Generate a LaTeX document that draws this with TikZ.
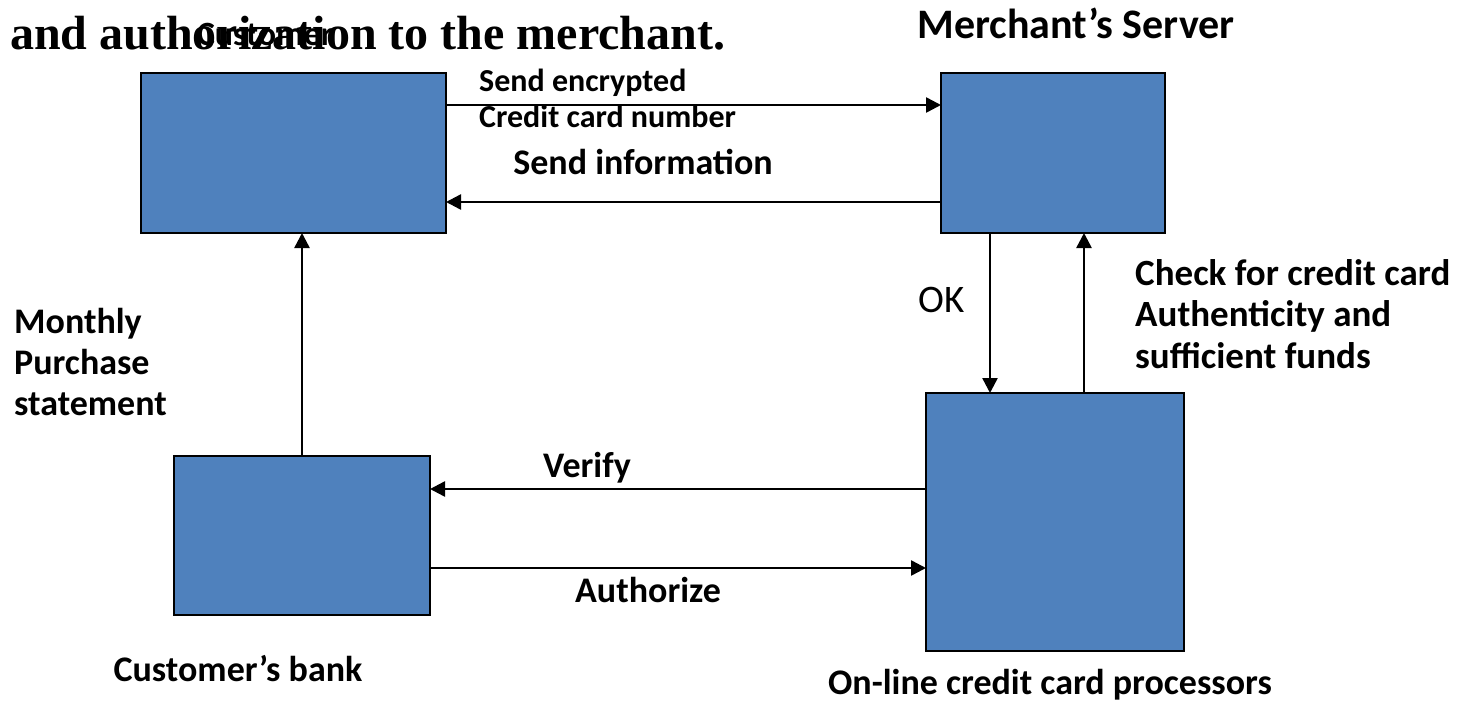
\documentclass[tikz,border=0pt]{standalone}
\usepackage{fontspec}
\setmainfont{Carlito}
\newfontfamily\titlefont{Liberation Serif}
\usetikzlibrary{arrows.meta}
\definecolor{boxblue}{RGB}{79,129,189}

\begin{document}
\begin{tikzpicture}[x=1pt,y=-1pt,
  box/.style={draw=black, line width=2.5pt, fill=boxblue, inner sep=0pt, outer sep=0pt},
  arr/.style={-{Triangle[length=15pt,width=15pt]}, line width=2.5pt},
  lbl/.style={font=\fontsize{36}{41}\selectfont\bfseries, inner sep=0pt, align=left},
  small/.style={font=\fontsize{32}{34}\selectfont\bfseries, inner sep=0pt},
  title/.style={font=\titlefont\bfseries\fontsize{48}{50}\selectfont, inner sep=0pt}
]
\useasboundingbox (0,0) rectangle (1463,701);

% heading line of the slide
\node[title, anchor=base west] (head) at (10,50) {and authorization to the merchant.};

% the four parties
\node[box, minimum width=305pt, minimum height=160pt] (cust)  at (293.5,153) {};
\node[box, minimum width=224pt, minimum height=160pt] (merch) at (1053,153) {};
\node[box, minimum width=258pt, minimum height=258pt] (proc)  at (1055,522) {};
\node[box, minimum width=256pt, minimum height=159pt] (bank)  at (302,535.5) {};

% party names
\node[lbl, font=\fontsize{34}{36}\selectfont\bfseries, anchor=base] (custname) at (265,46) {Customer};
\node[lbl, font=\fontsize{42}{44}\selectfont\bfseries, anchor=base] (merchname) at (1076,38) {Merchant’s Server};
\node[lbl, anchor=base] (bankname)  at (238,681)  {Customer’s bank};
\node[lbl, anchor=base] (procname)  at (1050,694) {On-line credit card processors};

% message flows
\draw[arr] ([yshift=48pt]cust.east) -- ([yshift=48pt]cust.east -| merch.west);
\draw[arr] ([yshift=-49pt]merch.west) -- ([yshift=-49pt]merch.west -| cust.east);
\draw[arr] ([xshift=-63pt]merch.south) -- ([xshift=-63pt]merch.south |- proc.north);
\draw[arr] ([xshift=29pt]proc.north) -- ([xshift=29pt]proc.north |- merch.south);
\draw[arr] ([yshift=33pt]proc.west) -- ([yshift=33pt]proc.west -| bank.east);
\draw[arr] ([yshift=-32.5pt]bank.east) -- ([yshift=-32.5pt]bank.east -| proc.west);
\draw[arr] (bank.north) -- (bank.north |- cust.south);

% flow labels
\node[small, anchor=base west] (enc1) at (479,92)  {Send encrypted};
\node[small, anchor=base west] (enc2) at (479,127) {Credit card number};
\node[lbl, anchor=base] (info)   at (643,174) {Send information};
\node[font=\fontsize{39}{40}\selectfont, inner sep=0pt, anchor=base] (ok) at (942,312) {OK};
\node[lbl, font=\fontsize{37}{41.5}\selectfont\bfseries, anchor=north west] (check) at (1135,259) {Check for credit card\\Authenticity and\\sufficient funds};
\node[lbl, anchor=north west] (monthly) at (14,308) {Monthly\\Purchase\\statement};
\node[lbl, anchor=base] (verify) at (587,477) {Verify};
\node[lbl, anchor=base] (auth)   at (648,602) {Authorize};
\end{tikzpicture}
\end{document}
